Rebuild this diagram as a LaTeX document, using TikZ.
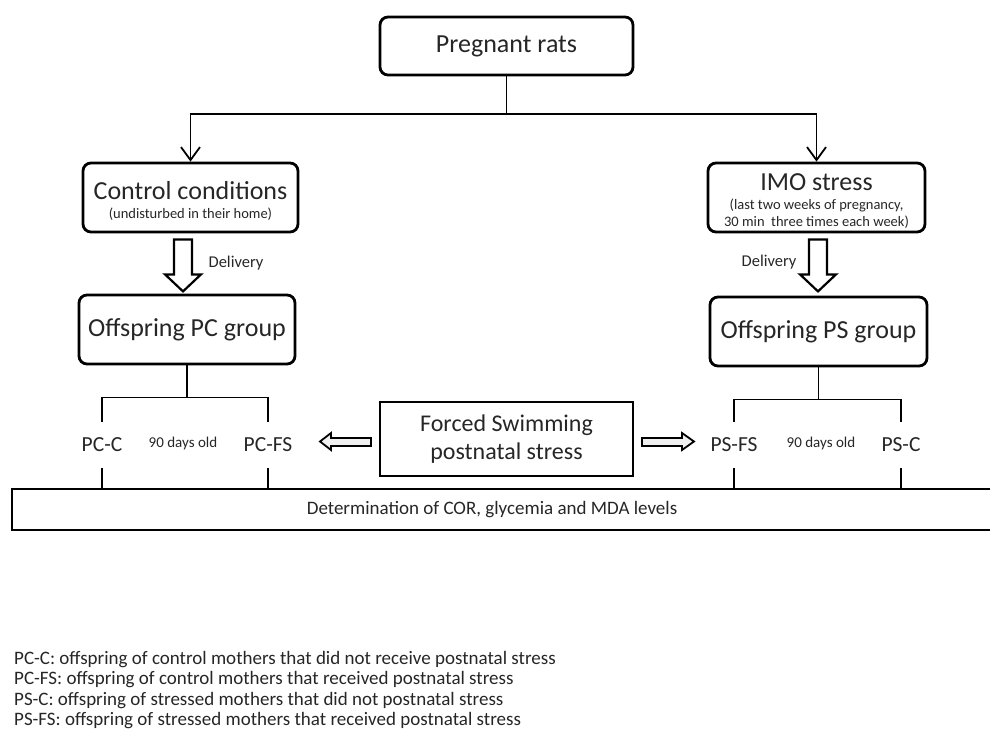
\documentclass[tikz,border=0pt]{standalone}
\usepackage{fontspec}
\setmainfont{Carlito}
\usetikzlibrary{arrows.meta,calc}
\tikzset{
	roundbox/.style={draw, rounded corners=8pt, line width=2.8pt, align=center, inner sep=0pt, text=black!85},
	plainbox/.style={draw, line width=2pt, align=center, inner sep=0pt, text=black!85},
	link/.style={line width=1.8pt},
	openarrow/.style={link, -{Straight Barb[length=13pt,width=19pt,line width=1.8pt]}},
	blockarrow/.style={draw, line width=2.2pt, fill=white, line join=miter},
	sidearrow/.style={draw, line width=1.8pt, fill=gray!12, line join=miter},
	grouplabel/.style={inner sep=0pt, minimum height=46pt, text=black!85, font=\fontsize{21.5}{24}\selectfont},
	agelabel/.style={inner sep=0pt, text=black!85, font=\fontsize{15}{17}\selectfont},
	small/.style={inner sep=0pt, text=black!85, font=\fontsize{16.5}{18}\selectfont}
}
\newcommand{\bigtext}{\fontsize{26}{28}\selectfont}
\newcommand{\subtext}{\fontsize{14.5}{17}\selectfont}
\newcommand{\lowered}[1]{\raisebox{-3.5pt}[\height][\depth]{#1}}

\begin{document}
\begin{tikzpicture}[x=1pt, y=-1pt]

	\useasboundingbox (0,0) rectangle (990,733);

	% Boxes of the design
	\node[roundbox, minimum width=253pt, minimum height=58pt] (pr) at (506.5,46) {\bigtext Pregnant rats};
	\node[roundbox, minimum width=215pt, minimum height=69pt] (cc) at (190.5,197.5) {\lowered{\bigtext Control conditions}\\[7pt]\lowered{\subtext (undisturbed in their home)}};
	\node[roundbox, minimum width=217pt, minimum height=69pt] (imo) at (816.5,197.5) {\lowered{\bigtext IMO stress}\\[7pt]\lowered{\subtext (last two weeks of pregnancy,}\\[3pt]\lowered{\subtext 30 min~ three times each week)}};
	\node[roundbox, minimum width=216pt, minimum height=69pt] (pcg) at (187,329.5) {\bigtext Offspring PC group};
	\node[roundbox, minimum width=217pt, minimum height=69pt] (psg) at (818.5,331.5) {\bigtext Offspring PS group};
	\node[plainbox, minimum width=253pt, minimum height=74pt, font=\fontsize{24}{28}\selectfont] (fs) at (506.5,439) {\raisebox{-3pt}{Forced Swimming}\\\raisebox{-3pt}{postnatal stress}};
	\node[plainbox, line width=2.5pt, minimum width=990pt, minimum height=41pt, font=\fontsize{19}{21}\selectfont] (det) at (507,509.5) {\hspace*{-30pt}Determination of COR, glycemia and MDA levels};

	% Pregnant rats split into the two conditions
	\draw[link] (pr.south) -- (pr.south |- 0,114) coordinate (split);
	\draw[openarrow] (split) -| (cc.north);
	\draw[openarrow] (split) -| (imo.north);

	% Delivery arrows
	\draw[blockarrow] ($(cc.south)+(-16.5,6)$) -- ++(18,0) -- ++(0,35) -- ++(9,0) -- ++(-18,17) -- ++(-18,-17) -- ++(9,0) -- cycle;
	\draw[blockarrow] ($(imo.south)+(-7.5,6)$) -- ++(18,0) -- ++(0,35) -- ++(9,0) -- ++(-18,17) -- ++(-18,-17) -- ++(9,0) -- cycle;
	\node[small] (dl) at (236,263) {Delivery};
	\node[small] (dr) at (769,262) {Delivery};

	% Groups at 90 days
	\node[grouplabel] (pcc) at (102,445) {PC-C};
	\node[grouplabel] (pcfs) at (268,445) {PC-FS};
	\node[grouplabel] (psfs) at (734,445) {PS-FS};
	\node[grouplabel] (psc) at (901,445) {PS-C};
	\node[agelabel] (agel) at (183,443) {90 days old};
	\node[agelabel] (ager) at (821,443) {90 days old};

	\draw[link] (pcg.south) -- ++(0,32) coordinate (lsplit);
	\draw[link] (pcc.north) |- (lsplit) -| (pcfs.north);
	\draw[link] (psg.south) -- ++(0,32) coordinate (rsplit);
	\draw[link] (psfs.north) |- (rsplit) -| (psc.north);
	\foreach \g in {pcc,pcfs,psfs,psc}
		\draw[link] (\g.south) -- (\g.south |- det.north);

	% Postnatal stress arrows
	\draw[sidearrow] ($(fs.west)+(-8,-1)$) -- ++(0,8) -- ++(-40,0) -- ++(0,4) -- ++(-11,-8.5) -- ++(11,-8.5) -- ++(0,5) -- cycle;
	\draw[sidearrow] ($(fs.east)+(8,-1)$) -- ++(40,0) -- ++(0,-5) -- ++(12,8.5) -- ++(-12,8.5) -- ++(0,-4) -- ++(-40,0) -- cycle;

	% Legend
	\node[anchor=north west, align=left, inner sep=0pt, text=black!85, font=\fontsize{19}{20.5}\selectfont] (legend) at (14,651) {PC-C: offspring of control mothers that did not receive postnatal stress\\
	PC-FS: offspring of control mothers that received postnatal stress\\
	PS-C: offspring of stressed mothers that did not postnatal stress\\
	PS-FS: offspring of stressed mothers that received postnatal stress};

\end{tikzpicture}
\end{document}
